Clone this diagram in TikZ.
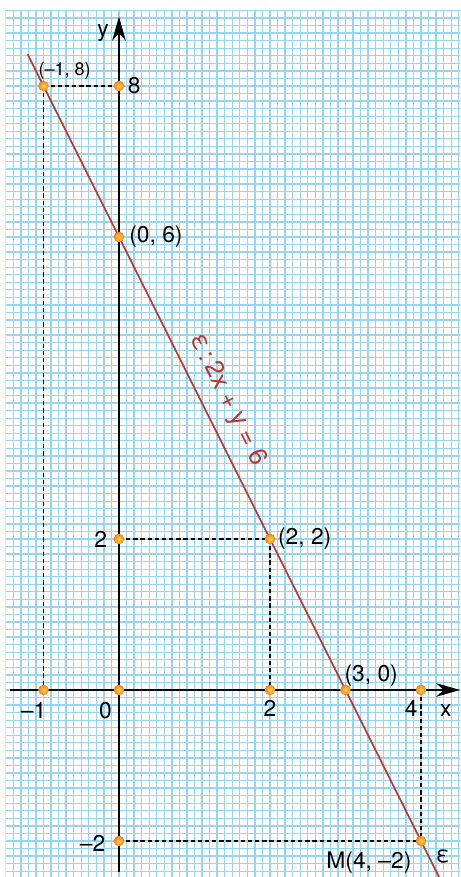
\documentclass[tikz,border=0pt]{standalone}
\usepackage{fontspec}
\setmainfont{TeX Gyre Heros}
\usetikzlibrary{arrows.meta}
\definecolor{gridblue}{RGB}{150,214,242}
\definecolor{linered}{RGB}{192,52,44}
\definecolor{dotin}{RGB}{255,214,70}
\definecolor{dotout}{RGB}{240,128,30}
\tikzset{
  gridline/.style={draw=gridblue, line width=0.5pt},
  axis/.style={line width=0.8pt, -{Stealth[length=3.2mm, width=1.8mm, inset=1mm]}},
  dashline/.style={line width=0.4pt, dash pattern=on 1.6pt off 1.1pt},
  dot/.style={circle, inner sep=0pt, minimum size=4pt, inner color=dotin, outer color=dotout},
  lbl/.style={font=\fontsize{8.6}{10}\selectfont, inner sep=0pt},
  small/.style={font=\fontsize{6.8}{8}\selectfont, inner sep=0pt},
  eqlbl/.style={font=\fontsize{9.6}{11}\selectfont, inner sep=0pt, text=linered},
}
\begin{document}
\begin{tikzpicture}[x=1cm,y=1cm]
\useasboundingbox (-1.576,-2.477) rectangle (4.517,9.139);
\fill[white] (-1.576,-2.477) rectangle (4.517,9.139);
\begin{scope}
  \clip (-1.5,-2.477) rectangle (4.517,9.0);
  \foreach \i in {-15,...,46} \draw[gridline] (\i/10,-2.5) -- (\i/10,9.0);
  \foreach \j in {-25,...,90} \draw[gridline] (-1.5,\j/10) -- (4.6,\j/10);
\end{scope}
% points
\coordinate (A) at (-1,8);
\coordinate (B) at (0,8);
\coordinate (C) at (0,6);
\coordinate (D) at (0,2);
\coordinate (E) at (2,2);
\coordinate (O) at (0,0);
\coordinate (F) at (-1,0);
\coordinate (G) at (2,0);
\coordinate (H) at (3,0);
\coordinate (I) at (4,0);
\coordinate (M) at (4,-2);
\coordinate (K) at (0,-2);
% dashed helpers
\draw[dashline] (A) -- (B);
\draw[dashline] (A) -- (F);
\draw[dashline] (D) -- (E);
\draw[dashline] (E) -- (G);
\draw[dashline] (I) -- (M);
\draw[dashline] (K) -- (M);
% axes
\coordinate (xs) at (-1.44,0);
\coordinate (xe) at (4.52,0);
\coordinate (ys) at (0,-2.41);
\coordinate (ye) at (0,8.92);
\draw[axis] (xs) -- (xe);
\draw[axis] (ys) -- (ye);
% line
\coordinate (L1) at (-1.21,8.42);
\coordinate (L2) at (4.25,-2.5);
\draw[linered, line width=0.6pt] (L1) -- (L2);
% dots
\foreach \p in {A,B,C,D,E,O,F,G,H,I,M,K}
  \node[dot] (d\p) at (\p) {};
% labels
\node[small] (tA) at (-0.72,8.2) {(\textendash1, 8)};
\node[lbl, anchor=west] (tB) at (0.11,8.0) {8};
\node[lbl, anchor=west] (tC) at (0.13,6.0) {(0, 6)};
\node[lbl, anchor=east] (tD) at (-0.15,2.0) {2};
\node[lbl, anchor=west] (tE) at (2.1,2.0) {(2, 2)};
\node[lbl] (tF) at (-1.13,-0.27) {\textendash1};
\node[lbl] (tO) at (-0.18,-0.27) {0};
\node[lbl] (tG) at (2.0,-0.25) {2};
\node[lbl] (tH) at (3.34,0.19) {(3, 0)};
\node[lbl] (tI) at (3.87,-0.25) {4};
\node[lbl] (tx) at (4.33,-0.27) {x};
\node[lbl] (ty) at (-0.21,8.7) {y};
\node[lbl] (tK) at (-0.35,-2.03) {\textendash2};
\node[lbl] (tM) at (3.31,-2.28) {M(4, \textendash2)};
\node[lbl] (te) at (4.29,-2.21) {ε};
\node[eqlbl, rotate=-63.43] (teq) at (1.44,3.84) {ε\,:\,2x + y = 6};
\end{tikzpicture}
\end{document}
